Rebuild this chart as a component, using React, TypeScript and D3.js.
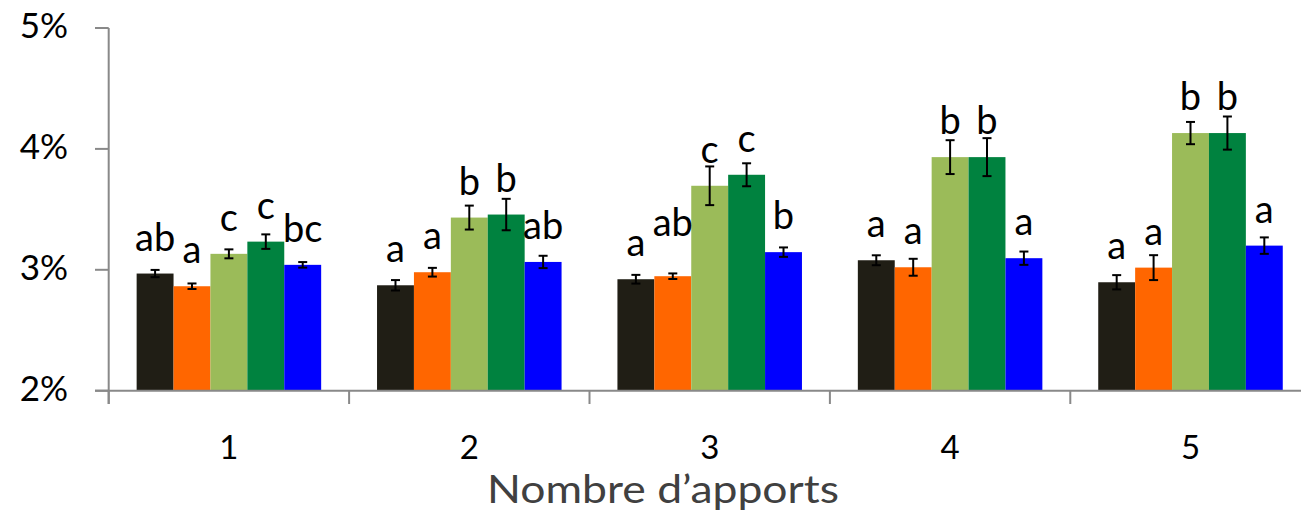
import React from "react";
import * as d3 from "d3";

const categories = ["1", "2", "3", "4", "5"];
const seriesNames = ["S1", "S2", "S3", "S4", "S5"];
const seriesColors = ["#201E15", "#FF6600", "#9BBB59", "#00823F", "#0000FF"];

// values in percent
const s1Values = [2.969, 2.872, 2.922, 3.079, 2.897];
const s2Values = [2.864, 2.98, 2.947, 3.021, 3.018];
const s3Values = [3.132, 3.432, 3.695, 3.932, 4.131];
const s4Values = [3.233, 3.457, 3.786, 3.932, 4.131];
const s5Values = [3.041, 3.065, 3.146, 3.096, 3.2];

const s1Err = [0.03, 0.043, 0.036, 0.041, 0.059];
const s2Err = [0.023, 0.036, 0.023, 0.07, 0.103];
const s3Err = [0.037, 0.099, 0.16, 0.14, 0.092];
const s4Err = [0.06, 0.13, 0.095, 0.157, 0.137];
const s5Err = [0.023, 0.051, 0.039, 0.055, 0.068];

const s1Letters = ["ab", "a", "a", "a", "a"];
const s2Letters = ["a", "a", "ab", "a", "a"];
const s3Letters = ["c", "b", "c", "b", "b"];
const s4Letters = ["c", "b", "c", "b", "b"];
const s5Letters = ["bc", "ab", "b", "a", "a"];

const yTicks = [2, 3, 4, 5];
const xTitle = "Nombre d\u2019apports";

const values = [s1Values, s2Values, s3Values, s4Values, s5Values];
const errors = [s1Err, s2Err, s3Err, s4Err, s5Err];
const letters = [s1Letters, s2Letters, s3Letters, s4Letters, s5Letters];

const W = 1301;
const H = 514;
const FONT = "Lato, 'Open Sans', sans-serif";
const AXIS = "#898989";

export default function App() {
  const x0 = d3.scaleBand().domain(categories).range([108.7, 1310.7]).padding(0);
  const x1 = d3
    .scaleBand()
    .domain(seriesNames)
    .range([0, x0.bandwidth()])
    .paddingInner(0)
    .paddingOuter(0.757);
  const y = d3.scaleLinear().domain([2, 5]).range([390.7, 28]);
  const fmt = (v: number) => `${v}%`;

  const labelSize = 38;
  const charW = labelSize * 0.54;

  const bars: any[] = [];
  const labels: any[] = [];
  categories.forEach((c, ci) => {
    let prev: any = null;
    seriesNames.forEach((s, si) => {
      const v = values[si][ci];
      const e = errors[si][ci];
      const bx = (x0(c) as number) + (x1(s) as number);
      const bw = x1.bandwidth();
      const cx = bx + bw / 2;
      bars.push({ key: `${c}-${s}`, x: bx, w: bw, y: y(v), h: y(2) - y(v), color: seriesColors[si], cx, eTop: y(v + e), eBot: y(v - e) });
      const txt = letters[si][ci];
      let base = y(v) - 23;
      const tw = txt.length * charW;
      if (prev) {
        const gap = cx - tw / 2 - (prev.cx + prev.tw / 2);
        if (gap < 10 && Math.abs(base - prev.base) < 8) base = prev.base - 20;
      }
      const lab = { key: `l-${c}-${s}`, cx, base, txt, tw };
      labels.push(lab);
      prev = lab;
    });
  });

  return (
    <div style={{ position: "absolute", left: 0, top: 0 }}>
      <svg width={W} height={H} style={{ display: "block", overflow: "hidden" }} fontFamily={FONT}>
        <rect x={0} y={0} width={W} height={H} fill="#fff" />
        {bars.map((b) => (
          <rect key={b.key} x={b.x} y={b.y} width={b.w} height={b.h} fill={b.color} />
        ))}
        {bars.map((b) => (
          <g key={"e" + b.key} stroke="#000" strokeWidth={2} fill="none">
            <line x1={b.cx} x2={b.cx} y1={b.eTop} y2={b.eBot} />
            <line x1={b.cx - 4.5} x2={b.cx + 4.5} y1={b.eTop} y2={b.eTop} />
            <line x1={b.cx - 4.5} x2={b.cx + 4.5} y1={b.eBot} y2={b.eBot} />
          </g>
        ))}
        {labels.map((l) => (
          <text key={l.key} x={l.cx} y={l.base} textAnchor="middle" fontSize={labelSize} fill="#000">
            {l.txt}
          </text>
        ))}
        {/* y axis */}
        <line x1={108.7} x2={108.7} y1={y(5)} y2={404} stroke={AXIS} strokeWidth={2} />
        {yTicks.map((t) => (
          <g key={"yt" + t}>
            <line x1={95} x2={108.7} y1={y(t)} y2={y(t)} stroke={AXIS} strokeWidth={2} />
            <text x={68} y={y(t) + 10} textAnchor="end" fontSize={35} fill="#000">
              {fmt(t)}
            </text>
          </g>
        ))}
        {/* x axis */}
        <line x1={95} x2={W} y1={y(2)} y2={y(2)} stroke={AXIS} strokeWidth={2} />
        {categories.map((c) => (
          <g key={"xt" + c}>
            <line x1={x0(c) as number} x2={x0(c) as number} y1={y(2)} y2={404} stroke={AXIS} strokeWidth={2} />
            <text x={(x0(c) as number) + x0.bandwidth() / 2} y={458.5} textAnchor="middle" fontSize={33} fill="#000">
              {c}
            </text>
          </g>
        ))}
        <text x={663} y={503} textAnchor="middle" fontSize={39} fill="#404040" textLength={352} lengthAdjust="spacingAndGlyphs">
          {xTitle}
        </text>
      </svg>
    </div>
  );
}
